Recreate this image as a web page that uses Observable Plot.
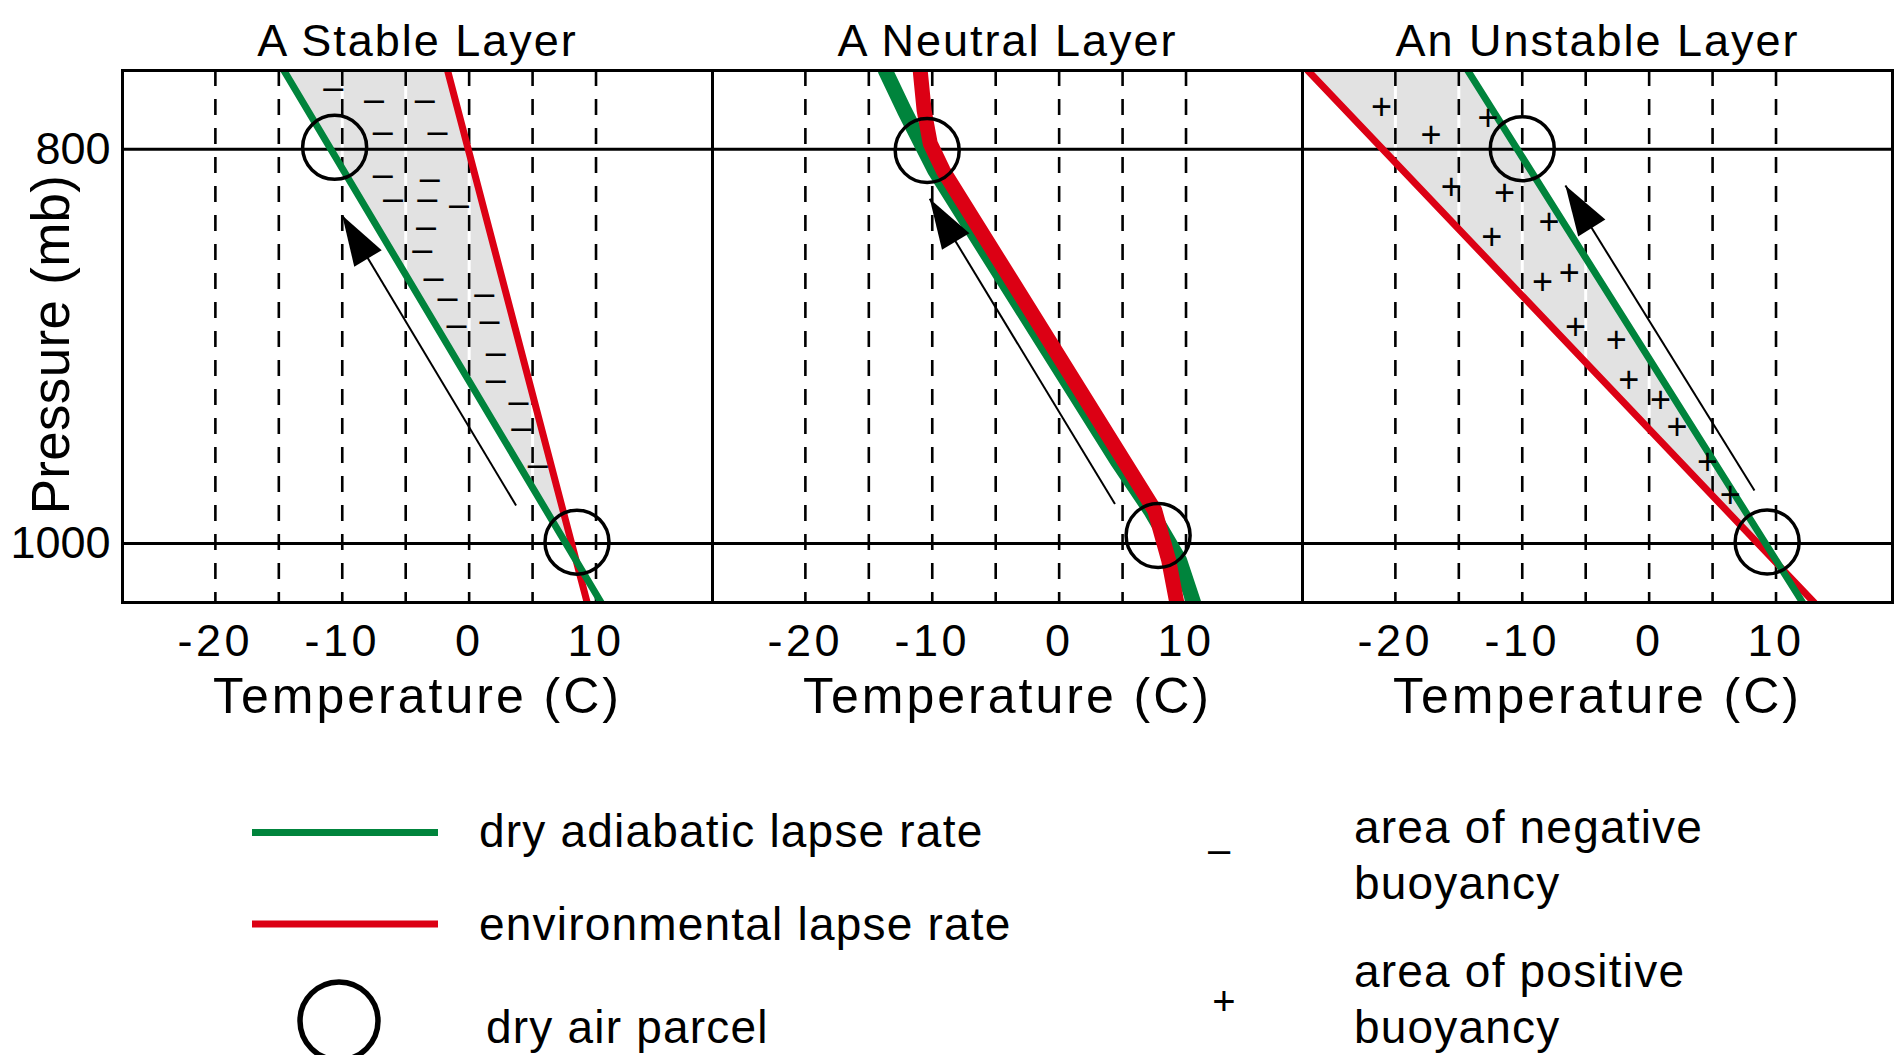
<!DOCTYPE html>
<html>
<head>
<meta charset="utf-8">
<script src="https://cdn.jsdelivr.net/npm/d3@7"></script>
<script src="https://cdn.jsdelivr.net/npm/@observablehq/plot@0.6"></script>
<style>
  html, body { margin: 0; padding: 0; background: #fff; }
  #chart { width: 1895px; height: 1055px; position: relative; overflow: hidden;
           font-family: "Liberation Sans", Arial, sans-serif; }
  #chart svg { display: block; }
</style>
</head>
<body>
<div id="chart"></div>
<script>
// ---------------- data ----------------
const panels = ["A Stable Layer", "A Neutral Layer", "An Unstable Layer"];
const pressureTicks = [800, 1000];
const temperatureTicks = [-20, -10, 0, 10];
const gridTemperatures = [-20, -15, -10, -5, 0, 5, 10];

// [temperature (C), pressure (mb)]
const stableDry = [[-14.6, 760], [10.4, 1030]];
const stableEnv = [[-1.7, 760], [9.3, 1030]];
const neutralDry = [[-13.7, 760], [-12.2, 780.3], [-9.8, 810.8], [4.55, 958], [7.2, 983.3], [9.5, 1008.7], [10.6, 1030]];
const neutralEnv = [[-10.95, 760], [-10.64, 780.3], [-10.16, 797], [-9.14, 810.8], [7.54, 983.3], [8.64, 1008.7], [9.27, 1030]];
const unstableDry = [[-14.3, 760], [12.1, 1030]];
const unstableEnv = [[-26.9, 760], [13.0, 1030]];

const negativeSigns = [[-10.7, 768.5], [-7.5, 774.5], [-3.5, 774.5], [-6.8, 791], [-2.5, 791],
  [-6.8, 813], [-3.1, 815], [-6.0, 825], [-3.3, 825], [-0.8, 828], [-3.4, 839], [-3.7, 851],
  [-2.8, 865], [-1.7, 875], [1.2, 873], [-1.0, 889], [1.6, 887], [2.1, 903], [2.1, 917],
  [3.9, 928], [4.1, 941], [5.4, 960]];
const positiveSigns = [[-21.1, 778.6], [-17.2, 793], [-12.7, 784.4], [-15.6, 819.2], [-11.4, 822.6],
  [-7.9, 837], [-12.4, 844.6], [-6.3, 863.2], [-8.4, 867.4], [-5.8, 890.3], [-2.6, 897],
  [-1.6, 917.3], [0.9, 927.4], [2.2, 941], [4.6, 958.8], [6.4, 975.7]];

const parcelPanels = [panels[0], panels[0], panels[1], panels[1], panels[2], panels[2]];
const parcelT = [-10.6, 8.5, -10.4, 7.8, -10.0, 9.3];
const parcelP = [799, 999.4, 800.6, 996, 799.7, 999.3];

const arrowTailT = [3.7, 4.4, 8.3];
const arrowTailP = [980.8, 980.0, 973.2];
const arrowTipT = [-10.0, -10.2, -6.6];
const arrowTipP = [833.6, 825.1, 818.4];

// ---------------- layout & style ----------------
const W = 1895, H = 740, mL = 121, mR = 2, mT = 70, mB = 138;
const xDomain = [-27.32, 19.18], yDomain = [760, 1030];
const green = "#00843c", red = "#dc0014", shade = "#e2e2e2";
const kx = (W - mL - mR) / 3 / (xDomain[1] - xDomain[0]);
const ky = (H - mT - mB) / (yDomain[1] - yDomain[0]);

const rows = (panel, pts) => pts.map(([T, p]) => ({panel, T, p}));

// shaded region between two straight lines, from the top down to where they meet
function between(panel, dry, env) {
  const sd = (dry[1][0] - dry[0][0]) / (dry[1][1] - dry[0][1]);
  const se = (env[1][0] - env[0][0]) / (env[1][1] - env[0][1]);
  const p = dry[0][1] + (env[0][0] - dry[0][0]) / (sd - se);
  const T = dry[0][0] + sd * (p - dry[0][1]);
  return [{panel, p: dry[0][1], a: dry[0][0], b: env[0][0]}, {panel, p, a: T, b: T}];
}
const shadeRows = [...between(panels[0], stableDry, stableEnv), ...between(panels[2], unstableDry, unstableEnv)];

const parcels = parcelT.map((T, i) => ({panel: parcelPanels[i], T, p: parcelP[i]}));
const arrows = arrowTailT.map((T1, i) => ({panel: panels[i], T1, p1: arrowTailP[i], T2: arrowTipT[i], p2: arrowTipP[i]}));

// filled arrow head as a custom symbol, tip at the anchor
function headSymbol(a) {
  const L = 50, Wd = 16, c = Math.cos(a), s = Math.sin(a);
  return {draw(ctx) {
    ctx.moveTo(0, 0);
    ctx.lineTo(-L * c - Wd * s, -L * s + Wd * c);
    ctx.lineTo(-L * c + Wd * s, -L * s - Wd * c);
    ctx.closePath();
  }};
}
const headMarks = arrows.map(d => {
  const a = Math.atan2((d.p2 - d.p1) * ky, (d.T2 - d.T1) * kx);
  return Plot.dot([d], {fx: "panel", x: "T2", y: "p2", r: 1, symbol: headSymbol(a), fill: "black", stroke: "none"});
});

const plot = Plot.plot({
  width: W, height: H,
  marginLeft: mL, marginRight: mR, marginTop: mT, marginBottom: mB,
  style: {fontFamily: "Liberation Sans, Arial, sans-serif", fontSize: "45px", color: "black", background: "white", overflow: "visible"},
  fx: {domain: panels, padding: 0, axis: null, label: null},
  x: {domain: xDomain, label: null},
  y: {domain: yDomain, reverse: true, label: null},
  marks: [
    Plot.areaX(shadeRows, {fx: "panel", y: "p", x1: "a", x2: "b", fill: shade}),
    Plot.ruleX(gridTemperatures, {stroke: "white", strokeWidth: 3}),
    Plot.ruleX(gridTemperatures, {stroke: "black", strokeWidth: 2.6, strokeDasharray: "16,13"}),
    Plot.ruleY(pressureTicks, {stroke: "black", strokeWidth: 3}),
    Plot.line(rows(panels[0], stableEnv), {fx: "panel", x: "T", y: "p", stroke: red, strokeWidth: 7, clip: true}),
    Plot.line(rows(panels[0], stableDry), {fx: "panel", x: "T", y: "p", stroke: green, strokeWidth: 7, clip: true}),
    Plot.line(rows(panels[1], neutralDry), {fx: "panel", x: "T", y: "p", stroke: green, strokeWidth: 15, clip: true}),
    Plot.line(rows(panels[1], neutralEnv), {fx: "panel", x: "T", y: "p", stroke: red, strokeWidth: 15, clip: true}),
    Plot.line(rows(panels[2], unstableEnv), {fx: "panel", x: "T", y: "p", stroke: red, strokeWidth: 7, clip: true}),
    Plot.line(rows(panels[2], unstableDry), {fx: "panel", x: "T", y: "p", stroke: green, strokeWidth: 7, clip: true}),
    Plot.text(rows(panels[0], negativeSigns), {fx: "panel", x: "T", y: "p", text: () => "\u2013", fontSize: 36}),
    Plot.text(rows(panels[2], positiveSigns), {fx: "panel", x: "T", y: "p", text: () => "+", fontSize: 36}),
    Plot.link(arrows, {fx: "panel", x1: "T1", y1: "p1", x2: "T2", y2: "p2", stroke: "black", strokeWidth: 2}),
    ...headMarks,
    Plot.dot(parcels, {fx: "panel", x: "T", y: "p", r: 32, stroke: "black", strokeWidth: 3.5, fill: "none"}),
    Plot.frame({stroke: "black", strokeWidth: 3}),
    Plot.axisX({ticks: temperatureTicks, tickSize: 0, tickPadding: 22, tickFormat: d => String(d), label: null}),
    Plot.axisY({ticks: pressureTicks, tickSize: 0, tickPadding: 12, tickFormat: d => String(d), label: null}),
    Plot.text(panels, {fx: d => d, text: d => d, frameAnchor: "top", lineAnchor: "middle", dy: -29.3, fontSize: 45}),
    Plot.text(panels, {fx: d => d, text: () => "Temperature (C)", frameAnchor: "bottom", lineAnchor: "middle", dy: 94, fontSize: 50}),
    Plot.text([panels[0]], {fx: d => d, text: () => "Pressure (mb)", frameAnchor: "left", textAnchor: "middle", lineAnchor: "middle", dx: -70, dy: 8, rotate: -90, fontSize: 53})
  ]
});

// letter spacing to mimic the wide bitmap font
plot.querySelectorAll("text").forEach(t => {
  const s = t.textContent;
  if (panels.includes(s)) t.setAttribute("letter-spacing", "2");
  else if (s === "Temperature (C)") t.setAttribute("letter-spacing", "3");
  else if (s === "Pressure (mb)") t.setAttribute("letter-spacing", "0.3");
});
plot.querySelectorAll('g[aria-label="x-axis tick label"] text').forEach(t => t.setAttribute("letter-spacing", "3.5"));

document.getElementById("chart").appendChild(plot);

// ---------------- legend (below the plot) ----------------
const legendLines = [{label: "dry adiabatic lapse rate", color: green, y: 92.5, base: 107},
                     {label: "environmental lapse rate", color: red, y: 184, base: 200}];
const legendSigns = [{sign: "\u2013", x: 1219, y: 110, lines: ["area of negative", "buoyancy"], base: 103.3},
                     {sign: "+", x: 1224, y: 262, lines: ["area of positive", "buoyancy"], base: 246.7}];
const leg = d3.select("#chart").append("svg")
  .attr("width", W).attr("height", 1055 - H)
  .style("font-family", "Liberation Sans, Arial, sans-serif").style("font-size", "46px");
legendLines.forEach(d => {
  leg.append("line").attr("x1", 252).attr("x2", 438).attr("y1", d.y).attr("y2", d.y)
    .attr("stroke", d.color).attr("stroke-width", 7);
  leg.append("text").attr("x", 479).attr("y", d.base).attr("letter-spacing", 1.2).text(d.label);
});
leg.append("circle").attr("cx", 339).attr("cy", 281).attr("r", 39)
  .attr("fill", "none").attr("stroke", "black").attr("stroke-width", 5.5);
leg.append("text").attr("x", 486).attr("y", 302.7).attr("letter-spacing", 1.2).text("dry air parcel");
legendSigns.forEach(d => {
  leg.append("text").attr("x", d.x).attr("y", d.y).attr("text-anchor", "middle")
    .attr("dy", "0.32em").style("font-size", "40px").text(d.sign);
  d.lines.forEach((l, i) => leg.append("text").attr("x", 1354).attr("y", d.base + i * 56)
    .attr("letter-spacing", 1.2).text(l));
});
</script>
</body>
</html>
